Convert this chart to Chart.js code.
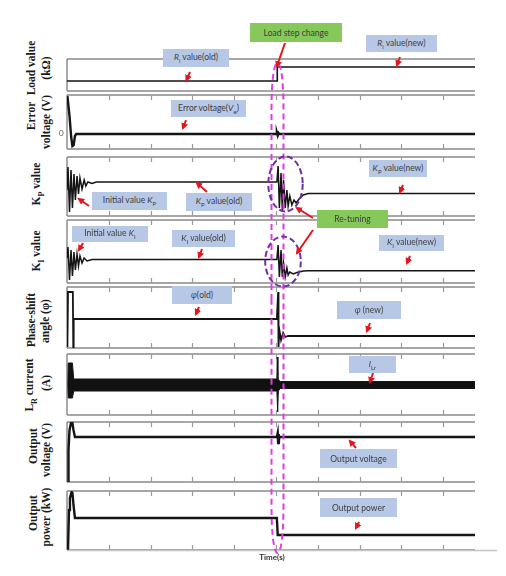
<!DOCTYPE html>
<html>
<head>
<meta charset="utf-8">
<script src="https://cdn.jsdelivr.net/npm/chart.js@4.4.1/dist/chart.umd.min.js"></script>
<style>
  body { margin: 0; background: #fff; }
  #page { position: relative; width: 506px; height: 576px; overflow: hidden; }
  .panel { position: absolute; left: 65px; }
  .ylab { position: absolute; font: bold 11.5px "Liberation Serif", serif; color: #1a1a1a;
          white-space: nowrap; transform: translate(-50%, -50%) rotate(-90deg); }
  .ylab sub { font-size: 8px; }
  .box { position: absolute; display: flex; align-items: center; justify-content: center;
         background: #b7c8e6; font: 8.5px Lato, "Open Sans", sans-serif; color: #3c3c3c; white-space: nowrap; }
  .box.green { background: #86c95a; }
  .box sub { font-size: 6px; }
  #overlay { position: absolute; left: 0; top: 0; }
</style>
</head>
<body>
<div id="page">
</div>
<script>
// time axis (tick every unit, panel ends a bit before 10)
const tickTimes = [1, 2, 3, 4, 5, 6, 7, 8, 9];
const T_END = 9.76;

// load resistance
const loadTime = [0, 5.03, 5.03, 9.76];
const loadValue = [1.0, 1.0, 2.4, 2.4];

// error voltage
const errTime = [0.01, 0.06, 0.1, 0.13, 0.16, 0.19, 0.22, 5.0, 5.02, 5.04, 5.06, 5.08, 9.76];
const errValue = [3.8, 1.8, -0.3, -1.2, -1.1, -0.2, 0, 0, 0.15, -0.15, 0.1, 0, 0];

// Kp
const kpTime = [0, 0.024, 0.06, 0.096, 0.13, 0.167, 0.2, 0.24, 0.275, 0.31, 0.36, 0.41, 0.45, 0.5, 0.6, 0.7,
  5.02, 5.05, 5.08, 5.12, 5.15, 5.18, 5.22, 5.26, 5.29, 5.33, 5.38, 5.43, 5.48, 5.55, 5.65, 5.77, 9.76];
const kpValue = [2.6, 4.9, 0.4, 4.6, 0.8, 4.2, 1.6, 4.0, 2.2, 3.8, 2.7, 3.6, 3.0, 3.4, 3.25, 3.4,
  3.4, 5.0, 0.8, 4.3, 0.6, 3.6, 0.8, 2.6, 1.0, 2.0, 1.1, 1.6, 1.3, 1.7, 2.1, 2.25, 2.25];

// Ki
const kiTime = [0, 0.024, 0.06, 0.096, 0.13, 0.167, 0.2, 0.24, 0.275, 0.31, 0.36, 0.41, 0.48, 0.6,
  5.02, 5.05, 5.08, 5.12, 5.15, 5.18, 5.22, 5.26, 5.29, 5.33, 5.41, 5.5, 5.65, 5.77, 9.76];
const kiValue = [2.5, 3.6, 0.3, 3.3, 0.7, 3.1, 1.3, 2.9, 1.7, 2.7, 2.0, 2.5, 2.2, 2.35,
  2.35, 3.8, 0.6, 3.3, 0.6, 2.0, 0.6, 1.5, 0.8, 1.1, 0.9, 1.05, 1.2, 1.23, 1.23];

// phase-shift angle
const phaseTime = [0.01, 0.024, 0.14, 0.15, 0.16, 5.02, 5.05, 5.06, 5.08, 5.12, 5.17, 5.22, 5.29, 9.76];
const phaseValue = [0.1, 5.6, 5.6, 0.1, 2.9, 2.9, 5.6, 0.1, 1.8, 0.8, 1.5, 1.1, 1.2, 1.2];

// Lr current envelope (upper / lower edge of the ripple band)
const lrTopTime = [0.02, 0.03, 0.13, 0.16, 5.02, 5.03, 5.045, 5.1, 9.76];
const lrTopValue = [3.0, 5.2, 5.2, 3.6, 3.6, 5.8, 3.6, 3.35, 3.35];
const lrBottomTime = [0.02, 0.03, 0.13, 0.16, 5.02, 5.04, 5.055, 5.1, 9.76];
const lrBottomValue = [3.0, 1.7, 1.7, 2.4, 2.4, 0.3, 2.4, 2.65, 2.65];

// output voltage
const voutTime = [0.024, 0.036, 0.06, 0.096, 0.13, 0.155, 0.19, 5.02, 5.04, 5.05, 5.06, 5.07, 5.08, 9.76];
const voutValue = [0, 3.2, 5.2, 5.9, 5.9, 5.2, 4.5, 4.5, 4.9, 3.9, 4.8, 3.9, 4.5, 4.5];

// output power
const poutTime = [0.024, 0.048, 0.07, 0.11, 0.13, 0.155, 0.19, 5.02, 5.04, 9.76];
const poutValue = [0, 4.0, 5.2, 5.8, 5.7, 4.5, 3.2, 3.2, 1.5, 1.5];

const page = document.getElementById('page');

function toPoints(times, values) {
  return times.map((t, i) => ({ x: t, y: values[i] }));
}

// gray double frame lines, left border and inward ticks
const framePlugin = {
  id: 'frame',
  beforeDatasetsDraw(chart, args, opts) {
    const { ctx, chartArea: a } = chart;
    const x = chart.scales.x;
    ctx.save();
    ctx.strokeStyle = '#a6a6a6';
    ctx.lineWidth = 2;
    ctx.beginPath();
    ctx.moveTo(a.left, a.top); ctx.lineTo(a.right, a.top);
    ctx.moveTo(a.left, a.bottom); ctx.lineTo(a.right, a.bottom);
    ctx.stroke();
    ctx.strokeStyle = '#8c8c8c';
    ctx.lineWidth = 1.5;
    ctx.beginPath();
    ctx.moveTo(a.left, a.top); ctx.lineTo(a.left, a.bottom);
    ctx.stroke();
    if (opts.ticks) {
      ctx.strokeStyle = '#9a9a9a';
      ctx.lineWidth = 1.2;
      ctx.beginPath();
      tickTimes.forEach(t => {
        const px = Math.round(x.getPixelForValue(t)) + 0.5;
        ctx.moveTo(px, a.top); ctx.lineTo(px, a.top + 5);
        ctx.moveTo(px, a.bottom); ctx.lineTo(px, a.bottom - 5);
      });
      ctx.stroke();
    }
    ctx.restore();
  }
};
Chart.register(framePlugin);

function makePanel(top, bottom, yMin, yMax, datasets, ticks) {
  const div = document.createElement('div');
  div.className = 'panel';
  div.style.top = (top - 2) + 'px';
  const canvas = document.createElement('canvas');
  canvas.width = 412;
  canvas.height = bottom - top + 4;
  div.appendChild(canvas);
  page.appendChild(div);

  new Chart(canvas, {
    type: 'line',
    data: { datasets: datasets },
    options: {
      responsive: false,
      animation: false,
      layout: { padding: 2 },
      elements: { point: { radius: 0 }, line: { tension: 0 } },
      scales: {
        x: { type: 'linear', min: 0, max: T_END, display: false },
        y: { min: yMin, max: yMax, display: false }
      },
      plugins: {
        legend: { display: false },
        tooltip: { enabled: false },
        frame: { ticks: ticks }
      }
    }
  });
}

function trace(times, values, width) {
  return { data: toPoints(times, values), borderColor: '#151515', borderWidth: width || 2.2, fill: false };
}

makePanel(59, 91, 0, 3.2, [trace(loadTime, loadValue, 1.6)], false);
makePanel(95, 149, -1.5, 3.9, [trace(errTime, errValue, 2.4)], true);
makePanel(157, 216, 0, 5.9, [trace(kpTime, kpValue, 1.5)], true);
makePanel(220, 283, 0, 6.3, [trace(kiTime, kiValue, 1.5)], true);
makePanel(287, 348, 0, 6.1, [trace(phaseTime, phaseValue, 1.8)], true);
makePanel(354, 415, 0, 6.1, [
  trace(lrTopTime, lrTopValue, 1),
  Object.assign(trace(lrBottomTime, lrBottomValue, 1), { fill: '-1', backgroundColor: '#111' })
], true);
makePanel(422, 482, 0, 6.0, [trace(voutTime, voutValue, 2.4)], true);
makePanel(491, 550, 0, 5.9, [trace(poutTime, poutValue, 2.4)], true);

// y-axis titles
const yLabels = [
  ['Load value', 31, 68], ['(kΩ)', 46, 68],
  ['Error', 31, 116], ['voltage (V)', 46, 122],
  ['K<sub>P</sub> value', 38, 184],
  ['K<sub>I</sub> value', 38, 251],
  ['Phase-shift', 31, 320], ['angle (φ)', 45, 321],
  ['L<sub>R</sub> current', 31, 385], ['(A)', 46, 383],
  ['Output', 33, 446], ['voltage (V)', 46, 450],
  ['Output', 33, 513], ['power (kW)', 46, 517]
];
yLabels.forEach(([txt, cx, cy]) => {
  const d = document.createElement('div');
  d.className = 'ylab';
  d.innerHTML = txt;
  d.style.left = cx + 'px';
  d.style.top = cy + 'px';
  page.appendChild(d);
});

// arrows, ellipses and bottom line
const arrows = [
  [285, 43, 277, 66], [190, 72, 186.5, 80], [400, 57, 397, 65], [186, 120, 183, 128],
  [89, 206, 79, 199], [207, 192, 197, 183], [403, 185, 400, 192],
  [83, 243, 79, 250], [202, 249, 199, 257], [410, 256, 407, 263],
  [313, 218, 297, 208], [313, 230, 297, 253],
  [199, 307, 196, 314], [370, 323, 367, 331], [373, 373, 370, 382],
  [356, 448, 350, 441], [359, 522, 356, 528]
];
let svg = '<svg id="overlay" width="506" height="576" xmlns="http://www.w3.org/2000/svg">' +
  '<defs><marker id="ah" viewBox="0 0 10 10" refX="7" refY="5" markerWidth="3.5" markerHeight="3.5" orient="auto">' +
  '<path d="M0,0 L10,5 L0,10 z" fill="#e5151d"/></marker></defs>' +
  '<line x1="67" y1="550.5" x2="497" y2="550.5" stroke="#c4c4c4" stroke-width="1.5"/>' +
  '<path d="M271.5 300 L271.5 110 C271.5 80 274 63 277.5 63 C281 63 283.5 80 283.5 110 L283.5 505 ' +
  'C283.5 535 281 553 277.5 553 C274 553 271.5 535 271.5 505 Z" fill="none" stroke="#e03ce6" stroke-width="2" stroke-dasharray="6 4"/>' +
  '<ellipse cx="285.5" cy="184" rx="17.2" ry="27.5" fill="none" stroke="#7030a0" stroke-width="2" stroke-dasharray="6 3"/>' +
  '<ellipse cx="283" cy="261.5" rx="17.8" ry="25" fill="none" stroke="#7030a0" stroke-width="2" stroke-dasharray="6 3"/>';
arrows.forEach(([x1, y1, x2, y2]) => {
  svg += `<line x1="${x1}" y1="${y1}" x2="${x2}" y2="${y2}" stroke="#e5151d" stroke-width="2" marker-end="url(#ah)"/>`;
});
svg += '</svg>';
page.insertAdjacentHTML('beforeend', svg);

// annotation boxes
const boxes = [
  ['Load step change', 250, 23, 342, 42, true],
  ['<i>R</i><sub>l</sub> value(old)', 163, 49, 229, 67],
  ['<i>R</i><sub>l</sub> value(new)', 366, 35, 437, 52],
  ['Error voltage(<i>V</i><sub>e</sub>)', 171, 100, 246, 117],
  ['Initial value <i>K</i><sub>P</sub>', 92, 192, 167, 210],
  ['<i>K</i><sub>P</sub> value(old)', 186, 193, 252, 211],
  ['<i>K</i><sub>P</sub> value(new)', 369, 160, 427, 177],
  ['Re-tuning', 317, 210, 388, 228, true],
  ['Initial value <i>K</i><sub>I</sub>', 72, 226, 148, 242],
  ['<i>K</i><sub>I</sub> value(old)', 172, 230, 235, 247],
  ['<i>K</i><sub>I</sub> value(new)', 379, 235, 444, 251],
  ['<i>φ</i>(old)', 172, 286, 232, 304],
  ['<i>φ</i> (new)', 337, 301, 401, 319],
  ['<i>I</i><sub>Lr</sub>', 349, 356, 396, 373],
  ['Output voltage', 320, 449, 397, 468],
  ['Output power', 320, 498, 397, 517]
];
boxes.forEach(([txt, x1, y1, x2, y2, green]) => {
  const d = document.createElement('div');
  d.className = green ? 'box green' : 'box';
  d.innerHTML = '<span>' + txt + '</span>';
  d.style.left = x1 + 'px';
  d.style.top = y1 + 'px';
  d.style.width = (x2 - x1) + 'px';
  d.style.height = (y2 - y1) + 'px';
  page.appendChild(d);
});

// small texts
page.insertAdjacentHTML('beforeend',
  '<div style="position:absolute;left:59px;top:128px;font:8px Lato,sans-serif;color:#555">0</div>' +
  '<div style="position:absolute;left:272px;top:557px;transform:translate(-50%,-50%);font:bold 8px Lato,sans-serif;color:#333">Time(s)</div>');
</script>
</body>
</html>
